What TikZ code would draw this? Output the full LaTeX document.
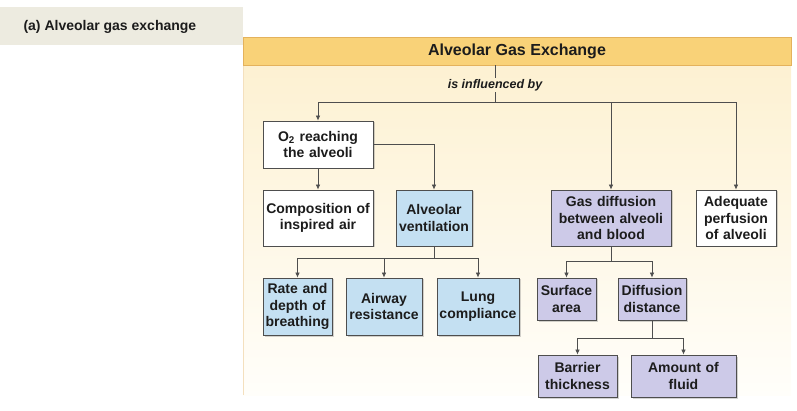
\documentclass[tikz,border=0pt]{standalone}
\usepackage{fontspec}
\setmainfont{Liberation Sans}
\usetikzlibrary{arrows.meta,shadows}

\definecolor{hdrorange}{RGB}{249,210,120}
\definecolor{hdredge}{RGB}{228,178,92}
\definecolor{bodytop}{RGB}{253,241,210}
\definecolor{bodybottom}{RGB}{255,254,250}
\definecolor{bandbeige}{RGB}{237,235,224}
\definecolor{ventblue}{RGB}{196,224,242}
\definecolor{diffpurple}{RGB}{205,202,232}
\definecolor{boxline}{RGB}{78,78,78}
\definecolor{ink}{RGB}{28,28,28}

\newcommand{\boxfont}{\fontsize{14}{16.5}\selectfont\bfseries}

\begin{document}
\begin{tikzpicture}[x=1pt, y=-1pt,
		box/.style={draw=boxline, line width=0.8pt, fill=white, align=center,
			font=\boxfont, text=ink, inner xsep=2pt, inner ysep=0pt,
			drop shadow={shadow xshift=1.5pt, shadow yshift=-1.5pt, opacity=0.35}},
		bluebox/.style={box, fill=ventblue},
		purplebox/.style={box, fill=diffpurple},
		arr/.style={-{Latex[length=5pt,width=4.5pt]}, line width=0.7pt, draw=boxline},
		link/.style={line width=0.7pt, draw=boxline}]
		%%%%% START %%%%%
		
		\useasboundingbox (0,0) rectangle (797,411);
		
		\fill[bandbeige] (0, 7) rectangle (243, 45);
		\node[anchor=west, font=\fontsize{14}{16}\selectfont\bfseries, text=ink] (lbl) at (20, 27) {(a) Alveolar gas exchange};
		
		\shade[top color=bodytop, bottom color=bodybottom] (243, 65) rectangle (791, 395);
		\draw[line width=0.5pt, color=hdredge!40] (243, 65) -- (243, 395);
		\node[draw=hdredge, line width=0.8pt, fill=hdrorange, minimum width=548pt, minimum height=28pt,
			font=\fontsize{16}{18}\selectfont\bfseries, text=ink] (hdr) at (517, 51) {Alveolar Gas Exchange};
		
		\node[font=\fontsize{12.5}{14}\selectfont\bfseries\itshape, text=ink, inner sep=1pt] (infl) at (495, 85) {is influenced by};
		\coordinate (bus) at (495, 102);
		
		% first row
		\node[box, text width=106pt, minimum height=47pt] (o2) at (318, 144.5) {O\textsubscript{2} reaching\\the alveoli};
		\node[purplebox, text width=116pt, minimum height=56pt] (gas) at (611, 218) {Gas diffusion\\between alveoli\\and blood};
		\node[box, text width=76pt, minimum height=56pt] (adeq) at (736, 218) {Adequate\\perfusion\\of alveoli};
		
		% second row
		\node[box, text width=106pt, minimum height=56pt] (comp) at (318, 218) {Composition of\\inspired air};
		\node[bluebox, text width=72pt, minimum height=56pt] (vent) at (434, 218) {Alveolar\\ventilation};
		
		% third row
		\node[bluebox, text width=65pt, minimum height=57pt] (rate) at (297.5, 306.5) {Rate and\\depth of\\breathing};
		\node[bluebox, text width=72pt, minimum height=57pt] (airway) at (384, 306.5) {Airway\\resistance};
		\node[bluebox, text width=78pt, minimum height=57pt] (lung) at (478, 306.5) {Lung\\compliance};
		\node[purplebox, text width=55pt, minimum height=42pt] (surf) at (566.5, 299) {Surface\\area};
		\node[purplebox, text width=64pt, minimum height=42pt] (dist) at (652, 299) {Diffusion\\distance};
		
		% fourth row
		\node[purplebox, text width=75pt, minimum height=42pt] (barr) at (577.5, 376) {Barrier\\thickness};
		\node[purplebox, text width=101pt, minimum height=42pt] (fluid) at (683.5, 376) {Amount of\\fluid};
		
		% connectors
		\draw[link] (hdr.south -| infl) -- (infl.north);
		\draw[link] (infl.south) -- (bus);
		\draw[arr] (bus) -| (o2.north);
		\draw[arr] (bus) -| (gas.north);
		\draw[arr] (bus) -| (adeq.north);
		
		\draw[arr] (o2.east) -| (vent.north);
		\draw[arr] (o2.south) -- (comp.north);
		
		\draw[link] (vent.south) -- ++(0, 12) coordinate (ventbus);
		\draw[arr] (ventbus) -| (rate.north);
		\draw[arr] (ventbus) -| (airway.north);
		\draw[arr] (ventbus) -| (lung.north);
		
		\draw[link] (gas.south) -- ++(0, 15) coordinate (gasbus);
		\draw[arr] (gasbus) -| (surf.north);
		\draw[arr] (gasbus) -| (dist.north);
		
		\draw[link] (dist.south) -- ++(0, 18) coordinate (distbus);
		\draw[arr] (distbus) -| (barr.north);
		\draw[arr] (distbus) -| (fluid.north);
		
		%%%%% END %%%%%
\end{tikzpicture}
\end{document}
